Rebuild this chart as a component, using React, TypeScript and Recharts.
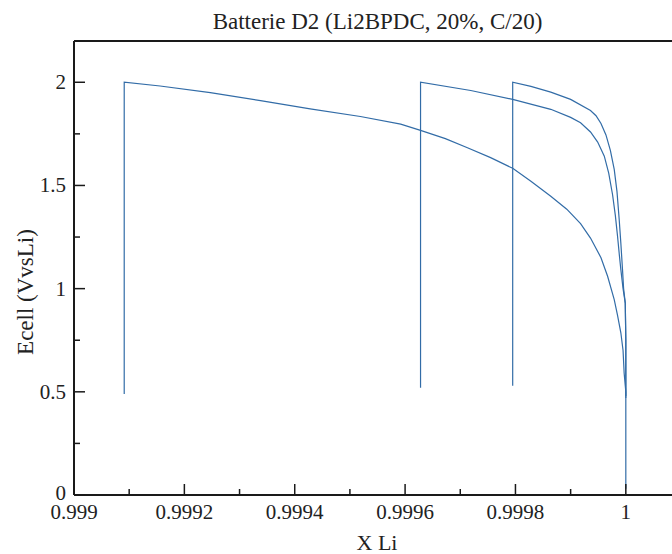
import { LineChart, Line, XAxis, YAxis, ReferenceLine, Label } from "recharts";

// discharge curves: x = X Li, y = Ecell
const curveA = [
  { x: 0.999091, y: 0.49 },
  { x: 0.999091, y: 2.0 },
  { x: 0.999156, y: 1.982 },
  { x: 0.999247, y: 1.95 },
  { x: 0.999338, y: 1.911 },
  { x: 0.999428, y: 1.871 },
  { x: 0.999519, y: 1.834 },
  { x: 0.999592, y: 1.797 },
  { x: 0.999628, y: 1.767 },
  { x: 0.999673, y: 1.727 },
  { x: 0.999713, y: 1.683 },
  { x: 0.999755, y: 1.635 },
  { x: 0.999795, y: 1.583 },
  { x: 0.999828, y: 1.52 },
  { x: 0.999864, y: 1.448 },
  { x: 0.999893, y: 1.385 },
  { x: 0.999918, y: 1.315 },
  { x: 0.999936, y: 1.245 },
  { x: 0.999955, y: 1.15 },
  { x: 0.999967, y: 1.06 },
  { x: 0.999979, y: 0.947 },
  { x: 0.999985, y: 0.87 },
  { x: 0.999991, y: 0.786 },
  { x: 0.999995, y: 0.7 },
  { x: 0.999997, y: 0.59 },
  { x: 0.999999, y: 0.53 },
  { x: 1.0, y: 0.5 },
  { x: 1.0, y: 0.03 },
];

const curveB = [
  { x: 0.999628, y: 0.52 },
  { x: 0.999628, y: 2.0 },
  { x: 0.999719, y: 1.96 },
  { x: 0.999795, y: 1.917 },
  { x: 0.999864, y: 1.869 },
  { x: 0.9999, y: 1.83 },
  { x: 0.999918, y: 1.804 },
  { x: 0.999936, y: 1.759 },
  { x: 0.999949, y: 1.71 },
  { x: 0.999961, y: 1.642 },
  { x: 0.999969, y: 1.56 },
  { x: 0.999976, y: 1.455 },
  { x: 0.999981, y: 1.355 },
  { x: 0.999985, y: 1.254 },
  { x: 0.999988, y: 1.17 },
  { x: 0.999991, y: 1.092 },
  { x: 0.999995, y: 1.0 },
  { x: 0.999999, y: 0.93 },
  { x: 1.0, y: 0.75 },
  { x: 1.0, y: 0.48 },
];

const curveC = [
  { x: 0.999795, y: 0.53 },
  { x: 0.999795, y: 2.0 },
  { x: 0.999828, y: 1.98 },
  { x: 0.999864, y: 1.952 },
  { x: 0.9999, y: 1.917 },
  { x: 0.999936, y: 1.863 },
  { x: 0.999946, y: 1.838 },
  { x: 0.999955, y: 1.8 },
  { x: 0.999964, y: 1.745 },
  { x: 0.999972, y: 1.67 },
  { x: 0.999979, y: 1.578 },
  { x: 0.999984, y: 1.47 },
  { x: 0.999988, y: 1.335 },
  { x: 0.999991, y: 1.22 },
  { x: 0.999994, y: 1.092 },
  { x: 0.999996, y: 1.0 },
  { x: 0.999999, y: 0.93 },
  { x: 1.0, y: 0.75 },
  { x: 1.0, y: 0.47 },
];

const xMajor = [0.999, 0.9992, 0.9994, 0.9996, 0.9998, 1];
const xMinor = [0.9991, 0.9993, 0.9995, 0.9997, 0.9999];
const yMajor = [0, 0.5, 1, 1.5, 2];
const yMinor = [0.25, 0.75, 1.25, 1.75];

const font = '"Liberation Serif", "Times New Roman", serif';
const lineColor = "#326ca7";
const axisColor = "#1a1a1a";

const XTick = (props: any) => {
  const { x, y, payload } = props;
  const major = xMajor.includes(payload.value);
  return (
    <g>
      <line x1={x} y1={y} x2={x} y2={y - (major ? 11 : 6)} stroke={axisColor} strokeWidth={1.5} />
      {major && (
        <text x={x} y={y + 24} textAnchor="middle" fontFamily={font} fontSize={21} fill="#222">
          {String(payload.value)}
        </text>
      )}
    </g>
  );
};

const YTick = (props: any) => {
  const { x, y, payload } = props;
  const major = yMajor.includes(payload.value);
  return (
    <g>
      <line x1={x} y1={y} x2={x + (major ? 11 : 6)} y2={y} stroke={axisColor} strokeWidth={1.5} />
      {major && (
        <text x={x - 8} y={y + (payload.value === 0 ? 5 : 7)} textAnchor="end" fontFamily={font} fontSize={21} fill="#222">
          {String(payload.value)}
        </text>
      )}
    </g>
  );
};

export default function App() {
  return (
    <div style={{ position: "absolute", left: 0, top: 0, width: 672, height: 554, overflow: "hidden", background: "#fff" }}>
      <div
        style={{
          position: "absolute",
          left: 0,
          width: 755,
          top: 9,
          textAlign: "center",
          fontFamily: font,
          fontSize: 23,
          color: "#222",
        }}
      >
        Batterie D2 (Li2BPDC, 20%, C/20)
      </div>
      <LineChart width={700} height={554} margin={{ top: 41, right: 19, bottom: 0, left: 0 }}>
        <XAxis
          dataKey="x"
          type="number"
          domain={[0.999, 1.0001]}
          allowDataOverflow
          ticks={[...xMajor, ...xMinor].sort((a, b) => a - b)}
          interval={0}
          tick={<XTick />}
          tickLine={false}
          tickSize={0}
          tickMargin={0}
          height={59}
          axisLine={{ stroke: axisColor, strokeWidth: 2 }}
        >
          <Label
            content={() => (
              <text x={377} y={550} textAnchor="middle" fontFamily={font} fontSize={22} fill="#222">
                X Li
              </text>
            )}
          />
        </XAxis>
        <YAxis
          type="number"
          domain={[0, 2.2]}
          allowDataOverflow
          ticks={[...yMajor, ...yMinor].sort((a, b) => a - b)}
          interval={0}
          tick={<YTick />}
          tickLine={false}
          tickSize={0}
          tickMargin={0}
          width={74}
          axisLine={{ stroke: axisColor, strokeWidth: 2 }}
        >
          <Label
            content={() => (
              <text
                x={33}
                y={292}
                transform="rotate(-90 33 292)"
                textAnchor="middle"
                fontFamily={font}
                fontSize={23}
                fill="#222"
              >
                Ecell (VvsLi)
              </text>
            )}
          />
        </YAxis>
        <ReferenceLine y={2.2} stroke={axisColor} strokeWidth={2} />
        <Line data={curveA} dataKey="y" type="linear" stroke={lineColor} strokeWidth={1.2} dot={false} isAnimationActive={false} />
        <Line data={curveB} dataKey="y" type="linear" stroke={lineColor} strokeWidth={1.2} dot={false} isAnimationActive={false} />
        <Line data={curveC} dataKey="y" type="linear" stroke={lineColor} strokeWidth={1.2} dot={false} isAnimationActive={false} />
      </LineChart>
    </div>
  );
}
